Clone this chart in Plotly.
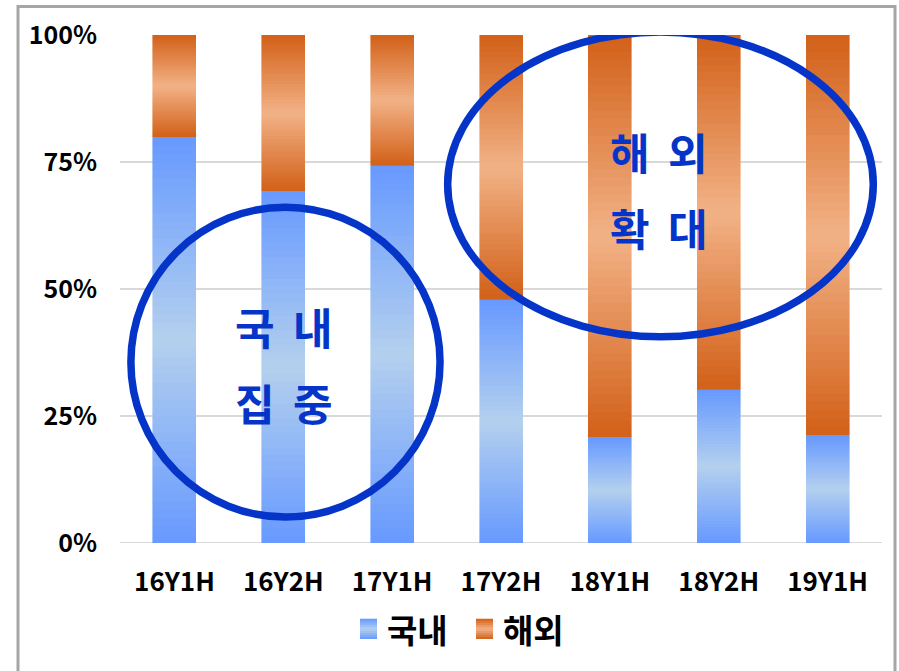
import plotly.graph_objects as go

# Half-year periods and the share of domestic vs overseas
categories = ["16Y1H", "16Y2H", "17Y1H", "17Y2H", "18Y1H", "18Y2H", "19Y1H"]
domestic = [0.80, 0.693, 0.744, 0.48, 0.209, 0.303, 0.213]
overseas = [round(1 - d, 3) for d in domestic]
series_names = ["국내", "해외"]
y_ticks = [0, 0.25, 0.5, 0.75, 1.0]
y_tick_text = ["0%", "25%", "50%", "75%", "100%"]

# gradient stops: colour at the segment edges and in its middle
BLUE_EDGE, BLUE_MID = (102, 153, 255), (180, 208, 238)
ORANGE_EDGE, ORANGE_MID = (210, 96, 24), (242, 178, 134)
N_STEPS = 48

FONT = "Noto Sans CJK KR"
HILITE = "#0535C8"

W, H = 899, 671
ML, MR, MT, MB = 120, 17, 35, 128
PW, PH = W - ML - MR, H - MT - MB


def mix(edge, mid, w):
    return "rgb({},{},{})".format(*[round(e + (m - e) * w) for e, m in zip(edge, mid)])


def ramp(k, n):
    t = (k + 0.5) / n
    return 1 - abs(2 * t - 1)


fig = go.Figure()

# each series is stacked from thin slices so the bar shows a vertical gradient
for values, edge, mid, name in [(domestic, BLUE_EDGE, BLUE_MID, series_names[0]),
                                (overseas, ORANGE_EDGE, ORANGE_MID, series_names[1])]:
    for k in range(N_STEPS):
        c = mix(edge, mid, ramp(k, N_STEPS))
        fig.add_trace(go.Bar(
            x=categories,
            y=[v / N_STEPS for v in values],
            name=name,
            legendgroup=name,
            showlegend=False,
            marker=dict(color=c, line=dict(width=0.6, color=c)),
            customdata=values,
            hovertemplate=name + ": %{customdata:.1%}<extra></extra>",
        ))

fig.update_layout(
    width=W, height=H,
    margin=dict(l=ML, r=MR, t=MT, b=MB),
    barmode="stack",
    bargap=0.605,
    plot_bgcolor="white",
    paper_bgcolor="white",
    showlegend=False,
    font=dict(family=FONT, color="black"),
)

fig.update_xaxes(
    type="category",
    showgrid=False,
    showline=False,
    ticks="",
    tickfont=dict(family=FONT, size=26, weight="bold", color="black"),
    ticklabelstandoff=21,
)
fig.update_yaxes(
    range=[0, 1],
    tickvals=y_ticks,
    ticktext=y_tick_text,
    showgrid=True,
    gridcolor="#D9D9D9",
    gridwidth=2,
    zeroline=False,
    showline=False,
    ticks="",
    tickfont=dict(family=FONT, size=25, weight="bold", color="black"),
    ticklabelstandoff=22,
)
# baseline
fig.add_shape(type="line", xref="paper", yref="y", x0=0, x1=1, y0=0, y1=0,
              line=dict(color="#D9D9D9", width=2), layer="below")


def px_x(px):
    return (px - ML) / PW


def px_y(py):
    return (MT + PH - py) / PH


# outer chart frame
fig.add_shape(type="rect", xref="paper", yref="paper",
              x0=px_x(18), x1=px_x(895), y0=px_y(690), y1=px_y(6.5),
              line=dict(color="#A6A6A6", width=3), fillcolor="rgba(0,0,0,0)")

# highlight ellipses around the two groups of periods
fig.add_shape(type="circle", xref="x", yref="y",
              x0=-0.40, x1=2.44, y0=0.051, y1=0.661,
              line=dict(color=HILITE, width=7.5))
fig.add_shape(type="circle", xref="x", yref="y",
              x0=2.51, x1=6.42, y0=0.406, y1=1.006,
              line=dict(color=HILITE, width=7.5))

GAP = " \u2009"
callouts = [
    (1.0, 0.427, "국" + GAP + "내"),
    (1.0, 0.278, "집" + GAP + "중"),
    (4.45, 0.772, "해" + GAP + "외"),
    (4.45, 0.622, "확" + GAP + "대"),
]
for cx, cy, txt in callouts:
    fig.add_annotation(x=cx, y=cy, xref="x", yref="y", text=txt, showarrow=False,
                       font=dict(family=FONT, size=43, weight="bold", color=HILITE))

# legend drawn with gradient swatches
legend_items = [(360, series_names[0], BLUE_EDGE, BLUE_MID),
                (476, series_names[1], ORANGE_EDGE, ORANGE_MID)]
SW_TOP, SW_BOT, SW_W, SW_STEPS = 619, 639, 17, 10
for left, label, edge, mid in legend_items:
    step = (SW_BOT - SW_TOP) / SW_STEPS
    for k in range(SW_STEPS):
        c = mix(edge, mid, ramp(k, SW_STEPS))
        y_lo = SW_BOT - k * step
        fig.add_shape(type="rect", xref="paper", yref="paper",
                      x0=px_x(left), x1=px_x(left + SW_W),
                      y0=px_y(y_lo), y1=px_y(y_lo - step - 0.3),
                      line=dict(width=0), fillcolor=c)
    fig.add_annotation(x=px_x(left + SW_W + 8), y=px_y((SW_TOP + SW_BOT) / 2),
                       xref="paper", yref="paper", text=label, showarrow=False,
                       xanchor="left", yanchor="middle",
                       font=dict(family=FONT, size=33, weight="bold", color="black"))

fig.write_html("out.html")
